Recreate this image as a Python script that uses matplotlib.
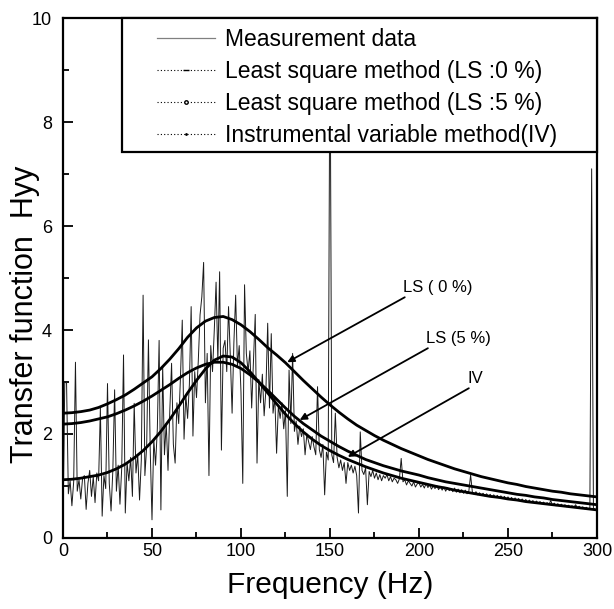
import matplotlib
matplotlib.use('Agg')
import matplotlib.pyplot as plt
from matplotlib.lines import Line2D
from matplotlib.patches import Rectangle

plt.rcParams['font.family'] = ['Liberation Sans', 'DejaVu Sans']

# fitted curves, read every 5 Hz
fit_freq = list(range(0, 301, 5))
ls0 = [2.40, 2.41, 2.43, 2.46, 2.51, 2.58, 2.66, 2.75, 2.86, 2.98,
       3.10, 3.26, 3.44, 3.64, 3.86, 4.04, 4.17, 4.24, 4.26, 4.20,
       4.10, 3.97, 3.82, 3.66, 3.52, 3.37, 3.20, 3.03, 2.87, 2.71,
       2.56, 2.42, 2.29, 2.17, 2.07, 1.97, 1.88, 1.80, 1.72, 1.65,
       1.58, 1.51, 1.45, 1.39, 1.33, 1.28, 1.23, 1.18, 1.14, 1.10,
       1.06, 1.03, 0.99, 0.96, 0.93, 0.90, 0.88, 0.85, 0.83, 0.81, 0.79]
ls5 = [2.19, 2.20, 2.22, 2.25, 2.29, 2.33, 2.39, 2.46, 2.54, 2.63,
       2.73, 2.84, 2.95, 3.07, 3.18, 3.27, 3.34, 3.38, 3.38, 3.34,
       3.26, 3.14, 3.00, 2.84, 2.67, 2.50, 2.34, 2.20, 2.08, 1.96,
       1.86, 1.76, 1.67, 1.59, 1.51, 1.45, 1.39, 1.34, 1.29, 1.25,
       1.21, 1.16, 1.12, 1.08, 1.05, 1.02, 0.99, 0.96, 0.93, 0.90,
       0.87, 0.84, 0.82, 0.79, 0.77, 0.74, 0.72, 0.70, 0.68, 0.66, 0.64]
iv = [1.12, 1.13, 1.15, 1.18, 1.21, 1.26, 1.33, 1.42, 1.54, 1.68,
      1.85, 2.05, 2.28, 2.53, 2.79, 3.03, 3.25, 3.42, 3.50, 3.48,
      3.37, 3.20, 3.00, 2.79, 2.58, 2.38, 2.20, 2.04, 1.90, 1.78,
      1.68, 1.59, 1.51, 1.44, 1.37, 1.31, 1.25, 1.20, 1.15, 1.11,
      1.07, 1.03, 0.99, 0.96, 0.92, 0.89, 0.86, 0.83, 0.80, 0.78,
      0.75, 0.73, 0.70, 0.68, 0.66, 0.64, 0.62, 0.60, 0.58, 0.56, 0.54]

# measurement, one value per Hz (0..300)
meas_freq = list(range(0, 301))
meas = [0.20, 3.00, 2.98, 0.85, 1.10, 0.62, 1.08, 3.38, 0.90, 1.12,
        0.75, 1.15, 1.20, 0.55, 1.05, 1.30, 0.80, 1.18, 0.68, 1.25,
        1.10, 2.50, 0.42, 1.20, 0.95, 2.97, 1.05, 0.52, 1.30, 2.85,
        0.90, 1.40, 0.65, 1.35, 3.52, 0.48, 1.45, 1.10, 1.55, 0.80,
        2.59, 1.25, 1.60, 0.73, 1.50, 4.67, 1.20, 1.75, 3.81, 1.70,
        0.35, 1.90, 1.40, 2.10, 3.80, 0.54, 3.30, 1.60, 2.20, 1.30,
        2.45, 3.36, 1.80, 1.44, 2.60, 2.20, 3.10, 4.19, 1.90, 2.75,
        2.30, 2.95, 4.45, 1.96, 3.20, 2.70, 3.40, 4.29, 4.64, 5.30,
        2.60, 3.55, 1.20, 3.70, 3.20, 4.00, 4.92, 3.40, 5.12, 1.69,
        3.65, 3.80, 3.20, 4.45, 3.50, 2.40, 3.75, 4.67, 3.30, 3.70,
        2.80, 1.05, 4.87, 3.55, 3.20, 3.60, 2.50, 3.40, 4.30, 1.44,
        3.05, 2.60, 3.15, 2.35, 2.85, 4.13, 2.50, 3.93, 2.40, 2.70,
        1.63, 2.55, 2.30, 2.60, 2.10, 2.45, 0.80, 3.23, 2.20, 3.55,
        2.05, 2.25, 1.80, 2.15, 1.95, 2.10, 1.60, 2.00, 1.85, 1.70,
        1.95, 1.75, 1.60, 2.91, 1.70, 1.55, 1.80, 0.83, 1.65, 1.50,
        10.0, 1.60, 1.45, 2.40, 1.55, 1.35, 1.50, 1.30, 1.45, 1.05,
        1.45, 1.30, 1.40, 1.25, 1.38, 1.20, 0.48, 2.04, 1.30, 1.22,
        1.35, 0.64, 1.28, 1.18, 1.30, 1.15, 1.25, 1.12, 1.22, 1.10,
        1.20, 1.15, 1.22, 1.10, 1.18, 1.08, 1.15, 1.12, 1.05, 1.14,
        1.53, 1.08, 1.12, 1.02, 1.10, 1.05, 1.00, 1.08, 0.98, 1.04,
        1.06, 0.98, 1.03, 0.96, 1.05, 0.97, 1.02, 0.94, 1.00, 0.95,
        1.01, 0.93, 0.99, 0.92, 0.98, 0.90, 0.97, 0.91, 0.95, 0.89,
        0.96, 0.88, 0.94, 0.87, 0.93, 0.86, 0.92, 0.85, 0.90, 1.21,
        0.88, 0.84, 0.89, 0.83, 0.87, 0.82, 0.86, 0.81, 0.85, 0.80,
        0.84, 0.79, 0.83, 0.78, 0.82, 0.77, 0.81, 0.76, 0.80, 0.75,
        0.79, 0.74, 0.78, 0.73, 0.77, 0.72, 0.76, 0.71, 0.75, 0.70,
        0.74, 0.69, 0.73, 0.68, 0.72, 0.67, 0.71, 0.67, 0.70, 0.66,
        0.69, 0.65, 0.68, 0.64, 0.72, 0.63, 0.67, 0.62, 0.66, 0.62,
        0.65, 0.61, 0.64, 0.60, 0.63, 0.60, 0.62, 0.59, 0.64, 0.58,
        0.61, 0.57, 0.60, 0.56, 0.59, 0.56, 0.58, 7.10, 0.57, 0.55,
        0.54]

legend_labels = ['Measurement data', 'Least square method (LS :0 %)',
                 'Least square method (LS :5 %)', 'Instrumental variable method(IV)']

# annotation text, text anchor and arrow tip (data coords)
notes = ['LS ( 0 %)', 'LS (5 %)', 'IV']
note_text_xy = [(192, 4.63), (205, 3.65), (228, 2.88)]
note_tip_xy = [(126, 3.38), (133, 2.27), (160, 1.56)]

fig = plt.figure(figsize=(6.14, 6.09), dpi=100)
ax = fig.add_axes([0.1026, 0.1166, 0.8697, 0.8538])

ax.plot(meas_freq, meas, color='#1a1a1a', lw=0.7, zorder=2)
ax.plot(fit_freq, ls0, color='black', lw=2.0, zorder=3)
ax.plot(fit_freq, ls5, color='black', lw=2.0, zorder=3)
ax.plot(fit_freq, iv, color='black', lw=2.0, zorder=3)

for txt, (tx, ty), (px, py) in zip(notes, note_text_xy, note_tip_xy):
    ax.annotate('', xy=(px, py), xytext=(tx, ty),
                arrowprops=dict(arrowstyle='-|>', color='black', lw=1.3,
                                mutation_scale=10, shrinkA=0, shrinkB=0))
    ax.text(tx - 1, ty + 0.05, txt, fontsize=12, ha='left', va='bottom')

ax.set_xlim(0, 300)
ax.set_ylim(0, 10)
ax.set_xticks([0, 50, 100, 150, 200, 250, 300])
ax.set_xticks([25, 75, 125, 175, 225, 275], minor=True)
ax.set_yticks([0, 2, 4, 6, 8, 10])
ax.set_yticks([1, 3, 5, 7, 9], minor=True)
ax.tick_params(which='both', direction='in', top=False, right=False,
               labelsize=13, width=1.3)
ax.tick_params(which='major', length=7)
ax.tick_params(which='minor', length=4)
ax.tick_params(axis='y', pad=8)
for sp in ax.spines.values():
    sp.set_linewidth(1.6)

ax.set_xlabel('Frequency (Hz)', fontsize=21.5, labelpad=8)
ax.set_ylabel('Transfer function  Hyy', fontsize=22)
ax.yaxis.label.set_va('center')
ax.yaxis.set_label_coords(-0.071, 0.43)

# legend box: hugs the top and right spines
box = Rectangle((0.11, 0.742), 0.89, 0.258, transform=ax.transAxes,
                facecolor='white', edgecolor='black', lw=1.6, zorder=4,
                clip_on=False)
ax.add_patch(box)

handles = [
    Line2D([], [], color='gray', lw=0.9),
    Line2D([], [], color='black', lw=0.8, ls=(0, (1, 2)), marker='_', ms=4),
    Line2D([], [], color='black', lw=0.8, ls=(0, (1, 2)), marker='o', ms=2.5, mfc='white'),
    Line2D([], [], color='black', lw=0.8, ls=(0, (1, 2)), marker='.', ms=2),
]
leg = ax.legend(handles, legend_labels, loc='upper left',
                bbox_to_anchor=(0.176, 0.98), fontsize=16.5, frameon=False,
                borderaxespad=0, borderpad=0, handlelength=2.55,
                handletextpad=0.42, labelspacing=0.38, numpoints=1)
leg.set_zorder(5)

fig.savefig('out.png', dpi=100)
